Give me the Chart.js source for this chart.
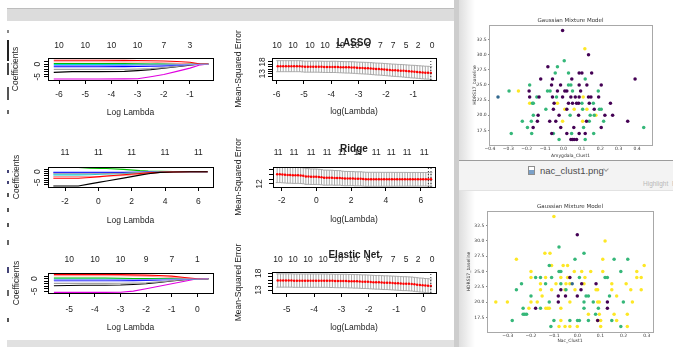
<!DOCTYPE html>
<html>
<head>
<meta charset="utf-8">
<title>glmnet paths and GMM clusters</title>
<script src="https://cdn.jsdelivr.net/npm/chart.js@4.4.1/dist/chart.umd.min.js"></script>
<style>
  html, body { margin: 0; padding: 0; }
  body { width: 673px; height: 347px; position: relative; overflow: hidden; background: #fff; }
  canvas, .ui { position: absolute; }
  #topBand { left: 7px; top: 8px; width: 449px; height: 12px; background: #dcdcdc; border-top: 1px solid #bdbdbd; }
  #bottomBand { left: 7px; top: 340px; width: 449px; height: 7px; background: #e1e1e1; }
  #divider { left: 454px; top: 0; width: 5px; height: 347px; background: #cdcdcd; }
  #shadow { left: 459px; top: 0; width: 16px; height: 347px; background: linear-gradient(to right, rgba(0,0,0,0.13), rgba(0,0,0,0)); }
  #winLine { left: 459px; top: 160px; width: 214px; height: 1px; background: #9c9c9c; }
  #header { left: 459px; top: 161px; width: 214px; height: 29px; background: #f3f3f3; border-bottom: 1px solid #e2e2e2; }
  #fileIcon { left: 528px; top: 166px; width: 5px; height: 7px; border: 1px solid #8d8d8d; background: linear-gradient(#fff 45%, #7aa0c8 45%); }
  #fileName { left: 540px; top: 165px; font: 9.5px 'Liberation Sans', Arial, sans-serif; line-height: 12px; color: #4d4d4d; white-space: nowrap; }
  #chev { left: 604px; top: 167px; width: 3px; height: 3px; border-right: 1px solid #a0a0a0; border-bottom: 1px solid #a0a0a0; transform: rotate(45deg); }
  #highlight { left: 643px; top: 180px; font: 6.5px 'Liberation Sans', Arial, sans-serif; line-height: 8px; color: #b8b8b8; white-space: nowrap; }
</style>
</head>
<body>
<div class="ui" id="topBand"></div>
<div class="ui" id="bottomBand"></div>
<div class="ui" id="divider"></div>
<div class="ui" id="shadow"></div>
<div class="ui" id="winLine"></div>
<div class="ui" id="header"></div>
<div class="ui" id="fileIcon"></div>
<div class="ui" id="fileName">nac_clust1.png</div>
<div class="ui" id="chev"></div>
<div class="ui" id="highlight">Highlight&nbsp;&nbsp;Ro</div>

<canvas id="lassoCoef"></canvas>
<canvas id="lassoCv"></canvas>
<canvas id="ridgeCoef"></canvas>
<canvas id="ridgeCv"></canvas>
<canvas id="enetCoef"></canvas>
<canvas id="enetCv"></canvas>
<canvas id="gmmAmy"></canvas>
<canvas id="gmmNac"></canvas>

<script>
// ---------- coefficient paths (glmnet plot), one row per variable ----------
const lassoPathX = [-6.2, -5.5, -4.5, -3.5, -3.0, -2.5, -2.0, -1.5, -1.0, -0.6, -0.3];
const lassoPathY = [
  [-0.55, -0.55, -0.55, -0.5, -0.45, -0.4, -0.35, -0.3, -0.2, -0.1, -0.05],
  [1.5, 1.5, 1.5, 1.45, 1.4, 1.3, 1.2, 1.0, 0.7, 0, 0],
  [0.9, 0.9, 0.9, 0.85, 0.8, 0.7, 0.5, 0.3, 0, 0, 0],
  [0.25, 0.25, 0.25, 0.2, 0.15, 0.05, 0, 0, 0, 0, 0],
  [-0.15, -0.15, -0.15, -0.15, -0.1, -0.05, 0, 0, 0, 0, 0],
  [-1.05, -1.05, -1.05, -1.0, -0.95, -0.85, -0.7, -0.45, -0.15, 0, 0],
  [-2.1, -2.1, -2.1, -2.1, -2.0, -1.8, -1.4, -0.9, -0.3, 0, 0],
  [-3.3, -3.0, -3.0, -2.9, -2.6, -2.2, -1.6, -1.0, -0.4, 0, 0],
  [-5.9, -5.9, -5.9, -5.85, -5.8, -5.0, -4.1, -2.9, -1.6, -0.3, 0]
];
const lassoTopX = [-6, -5, -4, -3, -2, -1];
const lassoTopNz = ['10', '10', '10', '10', '7', '3'];

const ridgePathX = [-2.7, -1.2, -0.5, 0.1, 0.5, 1.5, 2.5, 3.0, 3.7, 4.5, 5.5, 6.56];
const ridgePathY = [
  [-6.7, -6.7, -5.7, -4.9, -4.4, -3.0, -1.6, -1.0, -0.3, -0.12, -0.04, 0],
  [-3.1, -3.1, -2.7, -2.3, -2.05, -1.45, -0.85, -0.55, -0.3, -0.12, -0.04, 0],
  [-2.3, -2.3, -2.3, -2.3, -2.15, -1.75, -1.3, -1.0, -0.3, -0.1, -0.03, 0],
  [-1.0, -1.0, -1.0, -0.95, -0.9, -0.75, -0.45, -0.3, -0.1, -0.05, 0, 0],
  [-1.5, -1.5, -1.4, -1.2, -1.1, -0.9, -0.5, -0.35, -0.15, -0.05, 0, 0],
  [-0.5, -0.5, -0.5, -0.5, -0.5, -0.45, -0.3, -0.2, -0.1, -0.05, 0, 0],
  [-0.2, -0.2, -0.2, -0.2, -0.2, -0.2, -0.15, -0.1, -0.05, 0, 0, 0],
  [2.0, 2.0, 1.6, 1.55, 1.5, 1.1, 0.5, 0.3, 0.15, 0.05, 0.02, 0]
];
const ridgeTopX = [-2, 0, 2, 4, 6];
const ridgeTopNz = ['11', '11', '11', '11', '11'];

const enetPathX = [-5.6, -4.5, -3.6, -3.0, -2.5, -2.0, -1.5, -1.0, -0.5, 0, 0.43];
const enetPathY = [
  [-0.45, -0.45, -0.45, -0.4, -0.4, -0.35, -0.3, -0.25, -0.2, -0.1, -0.05],
  [1.7, 1.7, 1.7, 1.6, 1.5, 1.4, 1.25, 1.0, 0.5, 0, 0],
  [1.2, 1.2, 1.2, 1.15, 1.1, 0.95, 0.75, 0.45, 0.15, 0, 0],
  [0.25, 0.25, 0.25, 0.2, 0.1, 0.05, 0, 0, 0, 0, 0],
  [-0.1, -0.1, -0.1, -0.1, -0.05, 0, 0, 0, 0, 0, 0],
  [-0.8, -0.8, -0.8, -0.8, -0.75, -0.65, -0.5, -0.3, -0.1, 0, 0],
  [-1.85, -1.85, -1.85, -1.8, -1.75, -1.6, -1.25, -0.8, -0.3, 0, 0],
  [-2.8, -2.6, -2.6, -2.5, -2.3, -2.0, -1.5, -0.9, -0.35, 0, 0],
  [-5.4, -5.4, -5.4, -5.35, -4.9, -4.0, -3.0, -2.0, -1.0, -0.05, 0]
];
const enetTopX = [-5, -4, -3, -2, -1, 0];
const enetTopNz = ['10', '10', '10', '9', '7', '1'];

// ---------- cross-validation curves (cv.glmnet plot) ----------
const lassoCvX = [-5.96,-5.86,-5.76,-5.66,-5.56,-5.46,-5.36,-5.26,-5.16,-5.06,
  -4.96,-4.86,-4.76,-4.66,-4.56,-4.46,-4.36,-4.26,-4.16,-4.06,
  -3.96,-3.86,-3.76,-3.66,-3.56,-3.46,-3.36,-3.26,-3.16,-3.06,
  -2.96,-2.86,-2.76,-2.66,-2.56,-2.46,-2.36,-2.26,-2.16,-2.06,
  -1.96,-1.86,-1.76,-1.66,-1.56,-1.46,-1.36,-1.26,-1.16,-1.06,
  -0.96,-0.86,-0.76,-0.66,-0.56,-0.46,-0.36];
const lassoCvMse = [16.2,16.2,16.2,16.2,16.2,16.2,16.2,16.2,16.2,16.1,
  16.0,16.0,16.0,16.0,16.0,16.0,15.95,
  15.9,15.9,15.9,15.9,15.9,15.85,15.8,
  15.75,15.7,15.7,15.65,15.6,15.5,
  15.45,15.4,15.35,15.3,15.2,15.1,
  15.0,14.95,14.9,14.8,14.7,14.6,
  14.5,14.45,14.35,14.3,14.2,14.1,
  14.0,13.9,13.85,13.75,13.65,13.55,13.45,13.4,13.3];
const lassoCvSe = [2.35,2.35,2.35,2.35,2.35,2.35,2.35,2.35,2.35,2.35,
  2.35,2.35,2.35,2.36,2.36,2.37,2.37,2.38,2.38,2.39,
  2.4,2.4,2.41,2.41,2.42,2.43,2.44,2.45,2.46,2.47,
  2.48,2.49,2.5,2.51,2.52,2.53,2.54,2.55,2.56,2.57,
  2.58,2.59,2.6,2.61,2.62,2.63,2.65,2.67,2.68,2.7,
  2.71,2.72,2.73,2.74,2.75,2.75,2.75];
const lassoCvCut = [-0.36];
const lassoCvTopX = [-5.99, -5.40, -4.78, -4.23, -3.68, -3.13, -2.65, -2.21, -1.74, -1.26, -0.82, -0.31];
const lassoCvTopNz = ['10', '10', '10', '10', '10', '10', '9', '7', '7', '5', '2', '0'];

const ridgeCvX = [-2.26,-2.11,-1.96,-1.81,-1.66,-1.51,-1.36,-1.21,-1.06,-0.91,
  -0.76,-0.61,-0.46,-0.31,-0.16,-0.01,0.14,0.29,0.44,0.59,
  0.74,0.89,1.04,1.19,1.34,1.49,1.64,1.79,1.94,2.09,
  2.24,2.39,2.54,2.69,2.84,2.99,3.14,3.29,3.44,3.59,
  3.74,3.89,4.04,4.19,4.34,4.49,4.64,4.79,4.94,5.09,
  5.24,5.39,5.54,5.69,5.84,5.99,6.14,6.29,6.44,6.59];
const ridgeCvMse = [14.05,14.05,14.0,13.95,
  13.9,13.9,13.85,13.85,13.85,13.8,13.75,
  13.6,13.6,13.55,13.55,13.55,13.5,13.45,
  13.35,13.35,13.35,13.35,13.3,13.3,13.3,13.2,
  13.15,13.15,13.15,13.15,13.1,13.1,13.1,13.05,
  13.0,13.0,13.0,13.0,13.0,13.0,13.0,13.0,13.0,13.0,13.0,13.0,13.0,
  13.0,13.0,13.0,13.0,13.0,13.0,13.0,13.0,13.0,13.0,13.0,13.0,13.0];
const ridgeCvSe = [1.75,1.75,1.74,1.74,1.73,1.73,1.72,1.72,1.71,1.7,
  1.69,1.68,1.67,1.66,1.65,1.64,1.63,1.62,1.61,1.6,
  1.59,1.58,1.57,1.56,1.55,1.54,1.53,1.52,1.51,1.5,
  1.5,1.5,1.5,1.5,1.5,1.49,1.49,1.49,1.49,1.49,
  1.48,1.48,1.48,1.48,1.48,1.47,1.47,1.47,1.47,1.47,
  1.46,1.46,1.46,1.46,1.46,1.45,1.45,1.45,1.45,1.45];
const ridgeCvCut = [6.44, 6.59];
const ridgeCvTopX = [-2.21, -1.29, -0.31, 0.61, 1.48, 2.40, 3.44, 4.30, 5.22, 6.20];
const ridgeCvTopNz = ['11', '11', '11', '11', '11', '11', '11', '11', '11', '11'];

const enetCvX = [-5.33,-5.23,-5.13,-5.03,-4.93,-4.83,-4.73,-4.63,-4.53,-4.43,
  -4.33,-4.23,-4.13,-4.03,-3.93,-3.83,-3.73,-3.63,-3.53,-3.43,
  -3.33,-3.23,-3.13,-3.03,-2.93,-2.83,-2.73,-2.63,-2.53,-2.43,
  -2.33,-2.23,-2.13,-2.03,-1.93,-1.83,-1.73,-1.63,-1.53,-1.43,
  -1.33,-1.23,-1.13,-1.03,-0.93,-0.83,-0.73,-0.63,-0.53,-0.43,
  -0.33,-0.23,-0.13,-0.03,0.07,0.17,0.27];
const enetCvMse = [15.85,15.85,15.85,15.85,15.85,15.85,15.8,15.8,15.8,15.8,
  15.8,15.8,15.8,15.8,15.8,15.8,15.8,15.8,15.8,15.75,
  15.75,15.7,15.7,15.7,15.7,15.7,15.65,15.65,15.6,15.6,
  15.55,15.5,15.5,15.45,15.4,15.35,
  15.3,15.3,15.25,15.2,15.2,15.15,15.1,15.05,
  15.0,14.95,14.9,14.9,14.85,14.8,
  14.7,14.6,14.5,14.45,14.35,14.3,14.2];
const enetCvSe = [2.0,2.0,2.0,2.0,2.0,2.0,2.0,2.0,2.0,2.0,
  2.0,2.0,2.0,2.0,2.0,2.0,2.0,2.0,2.0,2.0,
  2.0,2.0,2.01,2.01,2.01,2.02,2.02,2.02,2.03,2.03,
  2.03,2.04,2.04,2.04,2.05,2.05,2.05,2.06,2.06,2.06,
  2.07,2.07,2.07,2.08,2.08,2.08,2.09,2.09,2.09,2.1,
  2.1,2.1,2.1,2.1,2.1,2.1,2.1];
const enetCvCut = [0.27];
const enetCvTopX = [-5.32, -4.77, -4.22, -3.67, -3.12, -2.57, -2.02, -1.58, -1.11, -0.63, -0.19, 0.32];
const enetCvTopNz = ['10', '10', '10', '10', '10', '10', '9', '7', '7', '5', '2', '0'];

// ---------- Gaussian mixture scatter points [x, HDRS17_baseline] ----------
const amyPurple = [[-0.005,34],[0.136,30],[-0.085,28],[0.085,27],[0.100,27],[0.153,27],[-0.124,26],[-0.060,26],[0.045,26],[0.389,26],
  [-0.065,25],[-0.016,25],[0.085,25],[0.127,25],[0.205,25],[-0.187,24],[-0.033,24],[0.007,24],[0.018,24],[0.093,24],
  [-0.184,23],[-0.133,23],[-0.060,23],[-0.005,23],[0.040,23],[0.064,23],[0.085,23],[0.136,23],[0.149,23],[0.191,23],
  [-0.051,22],[0.027,22],[0.049,22],[0.071,22],[0.082,22],[0.140,22],[0.255,22],[-0.055,21],[0.018,21],[0.167,21],
  [-0.138,20],[-0.024,20],[0.082,20],[0.225,20],[0.267,20],[-0.142,19],[-0.075,19],[-0.042,19],[0.125,19],[0.349,19],
  [-0.165,18],[-0.015,18],[0.056,18],[0.205,18],[-0.064,17],[0.018,17],[0.085,17],[0.118,17],[0.040,16],[0.049,16],[0.058,16],[0.071,16]];
const amyBlue = [[-0.356,23]];
const amyGreen = [[0.004,29],[-0.033,28],[-0.045,27],[0.027,27],[0.118,26],[-0.184,25],[0.027,25],[0.040,25],[-0.296,24],[-0.087,24],
  [-0.073,24],[0.049,24],[0.189,24],[-0.145,23],[-0.038,23],[-0.169,22],[-0.164,22],[0.100,22],[0.162,22],[-0.096,21],
  [0.104,21],[0.195,21],[0.205,21],[-0.164,20],[0.036,20],[0.145,20],[0.167,20],[-0.224,19],[-0.175,19],[0.140,19],
  [0.218,19],[-0.196,18],[0.109,18],[0.436,18],[-0.284,17],[-0.173,17],[-0.055,17],[0.044,17],[0.164,17],[-0.024,16],[0.118,16]];
const amyYellow = [[0.116,31],[-0.245,24],[0.107,23],[-0.184,22],[-0.033,22],[0.007,21],[0.058,21],[0.127,21],[0.176,20],[-0.005,19],[0.104,19]];

const nacPurple = [[0.000,31],[-0.032,24],[0.019,23],[0.081,23],[-0.071,22],[0.016,22],[-0.082,21],[-0.051,21],[0.000,21],[-0.082,20],
  [0.130,20],[-0.180,19],[0.130,19],[0.088,17]];
const nacBlue = [[-0.022,23]];
const nacGreen = [[-0.079,29],[0.029,28],[-0.010,27],[0.159,27],[0.218,27],[-0.121,26],[-0.079,25],[-0.071,25],[0.188,25],[-0.180,24],
  [-0.159,24],[-0.111,24],[0.009,24],[0.120,24],[0.130,24],[-0.241,23],[-0.137,23],[-0.071,23],[-0.263,22],[-0.049,22],
  [-0.200,21],[0.038,21],[0.048,21],[0.139,21],[-0.121,20],[0.029,20],[0.069,20],[0.199,20],[-0.234,19],[-0.159,19],
  [0.029,19],[0.091,19],[-0.234,18],[-0.227,18],[-0.219,18],[0.079,18],[-0.281,17],[-0.101,17],[-0.032,17],[0.001,17],
  [0.009,17],[0.048,17],[0.149,17],[-0.114,16],[0.188,16]];
const nacYellow = [[-0.101,34],[0.120,30],[-0.140,28],[-0.118,28],[-0.263,27],[0.110,27],[-0.111,26],[-0.061,26],[-0.042,26],[0.289,26],
  [-0.200,25],[-0.013,25],[0.019,25],[0.058,25],[0.110,25],[0.257,25],[-0.200,24],[-0.137,24],[-0.071,24],[-0.042,24],
  [0.033,24],[0.257,24],[0.276,24],[-0.159,23],[-0.092,23],[-0.049,23],[-0.032,23],[0.029,23],[0.149,23],[0.211,23],
  [-0.159,22],[-0.111,22],[-0.053,22],[-0.010,22],[0.081,22],[0.088,22],[0.149,22],[0.231,22],[0.276,22],[-0.152,21],
  [0.170,21],[-0.352,20],[-0.302,20],[-0.200,20],[-0.173,20],[-0.032,20],[0.088,20],[0.095,20],[0.238,20],[-0.209,19],
  [-0.136,19],[-0.128,19],[-0.121,19],[-0.071,19],[0.048,18],[0.095,18],[0.159,18],[0.216,18],[-0.071,17],[0.088,17],
  [0.101,17],[0.170,17],[-0.079,16],[-0.053,16],[-0.032,16],[0.000,16],[0.101,16],[0.216,16]];

const gmmAmyXTicks = [-0.4, -0.3, -0.2, -0.1, 0, 0.1, 0.2, 0.3, 0.4];
const gmmNacXTicks = [-0.3, -0.2, -0.1, 0, 0.1, 0.2, 0.3];
const gmmYTicks = [17.5, 20, 22.5, 25, 27.5, 30, 32.5];

// ---------- styles ----------
const R_FAMILY = "'Liberation Sans', Arial, sans-serif";
const MPL_FAMILY = "'DejaVu Sans', sans-serif";
const R_SIZE = 8.5;
const R_TEXT = '#1e1e1e';
const lassoColors = ['#8c8cff', '#ff0000', '#ff9a9a', '#00c000', '#00d8d8', '#0000ff', '#a0a0a0', '#000000', '#e000e0'];
const ridgeColors = ['#000000', '#ff0000', '#ff9a9a', '#a0a0a0', '#00d8d8', '#0000ff', '#8c8cff', '#00c000'];
const viridis = { purple: '#440154', blue: '#31688e', green: '#35b779', yellow: '#fde725' };

Chart.defaults.font.family = R_FAMILY;

// per-canvas decoration (box, rotated R y labels, panel title)
const extras = new Map();
Chart.register({
  id: 'panelDecor',
  afterDatasetsDraw(chart) {
    const e = extras.get(chart.canvas.id);
    if (!e) return;
    const { ctx, chartArea: a } = chart;
    ctx.save();
    ctx.strokeStyle = e.frame;
    ctx.lineWidth = 1;
    ctx.strokeRect(Math.round(a.left) + 0.5, Math.round(a.top) + 0.5,
      Math.round(a.right - a.left), Math.round(a.bottom - a.top));
    ctx.restore();
  },
  afterDraw(chart) {
    const e = extras.get(chart.canvas.id);
    if (!e) return;
    const { ctx, chartArea: a } = chart;
    ctx.save();
    ctx.fillStyle = e.color;
    ctx.textAlign = 'center';
    ctx.textBaseline = 'middle';
    if (e.yLabels) {
      ctx.font = e.yLabelFont;
      const ys = chart.scales.y;
      e.yLabels.forEach(([v, txt]) => {
        ctx.save();
        ctx.translate(a.left - e.yLabelOffset, ys.getPixelForValue(v));
        ctx.rotate(-Math.PI / 2);
        ctx.fillText(txt, 0, 0);
        ctx.restore();
      });
    }
    if (e.title) {
      ctx.font = e.titleFont;
      ctx.fillText(e.title, (a.left + a.right) / 2, e.titleY);
    }
    ctx.restore();
  }
});

function placeCanvas(id, [cx, cy, cw, ch]) {
  const c = document.getElementById(id);
  c.width = cw; c.height = ch;
  c.style.left = cx + 'px'; c.style.top = cy + 'px';
  return c;
}

function pathDatasets(xs, rows, colors) {
  return rows.map((row, i) => ({
    xAxisID: 'x', yAxisID: 'y',
    data: xs.map((x, j) => ({ x, y: row[j] })),
    showLine: true, borderColor: colors[i], borderWidth: 1.1, pointRadius: 0
  }));
}

function cvDatasets(xs, mse, se, cuts, yMin, yMax) {
  const bars = [];
  xs.forEach((x, i) => { bars.push({ x, y: mse[i] - se[i] }, { x, y: mse[i] + se[i] }, { x, y: null }); });
  return [
    ...cuts.map(c => ({
      xAxisID: 'x', yAxisID: 'y', data: [{ x: c, y: yMin }, { x: c, y: yMax }],
      showLine: true, borderColor: '#333', borderWidth: 1, borderDash: [1, 2], pointRadius: 0
    })),
    { xAxisID: 'x', yAxisID: 'y', data: xs.map((x, i) => ({ x, y: mse[i] })),
      pointRadius: 1.25, pointBackgroundColor: '#ff0000', pointBorderWidth: 0 },
    { xAxisID: 'x', yAxisID: 'y', data: bars, showLine: true, spanGaps: false,
      borderColor: '#a9a9a9', borderWidth: 1, pointStyle: 'line', pointRadius: 1.4,
      pointBorderColor: '#a9a9a9', pointBorderWidth: 1 }
  ];
}

// R-style panel: box, ticks below, non-zero counts on top, rotated y labels
function rPanel(id, p) {
  const [cx, cy, cw, ch] = p.canvas;
  const [bl, bt, br, bb] = p.box;
  const lh = R_SIZE * 1.2;
  const font = { family: R_FAMILY, size: R_SIZE };
  const canvas = placeCanvas(id, p.canvas);
  extras.set(id, {
    frame: '#000', color: R_TEXT,
    yLabels: p.yLabels, yLabelOffset: p.yLabelOffset, yLabelFont: `${R_SIZE}px ${R_FAMILY}`,
    title: p.title, titleY: p.titleY - cy, titleFont: `bold 10px ${R_FAMILY}`
  });
  return new Chart(canvas, {
    type: 'scatter',
    data: { datasets: p.datasets },
    options: {
      responsive: false, animation: false, events: [],
      layout: { padding: { left: 0, top: 0, bottom: 0, right: cx + cw - br } },
      plugins: { legend: { display: false }, tooltip: { enabled: false } },
      scales: {
        x: {
          type: 'linear', position: 'bottom', min: p.xMin, max: p.xMax,
          afterBuildTicks: s => { s.ticks = p.xTicks.map(v => ({ value: v })); },
          afterFit: s => { s.height = cy + ch - bb; },
          grid: { drawOnChartArea: false, drawTicks: true, tickLength: 4, color: '#000' },
          border: { display: false },
          ticks: { autoSkip: false, maxRotation: 0, minRotation: 0, font, color: R_TEXT,
            padding: Math.max(0, p.xLabelY - bb - 4 - lh / 2), callback: v => String(v) },
          title: { display: true, text: p.xTitle, font, color: R_TEXT,
            padding: { top: 0, bottom: cy + ch - p.xTitleY - lh / 2 } }
        },
        x2: {
          type: 'linear', position: 'top', min: p.xMin, max: p.xMax,
          afterBuildTicks: s => { s.ticks = p.topX.map(v => ({ value: v })); },
          afterFit: s => { s.height = bt - cy; },
          grid: { display: false, drawTicks: false },
          border: { display: false },
          ticks: { autoSkip: false, maxRotation: 0, minRotation: 0, font, color: R_TEXT,
            padding: Math.max(0, bt - p.topY - lh / 2), callback: (v, i) => p.topLabels[i] }
        },
        y: {
          type: 'linear', min: p.yMin, max: p.yMax,
          afterBuildTicks: s => { s.ticks = p.yTicks.map(v => ({ value: v })); },
          afterFit: s => { s.width = bl - cx; },
          grid: { drawOnChartArea: false, drawTicks: true, tickLength: 4, color: '#000' },
          border: { display: false },
          ticks: { display: false },
          title: { display: true, text: p.yTitle, font, color: R_TEXT,
            padding: { top: p.yTitleX - cx - lh / 2, bottom: 0 } }
        }
      }
    }
  });
}

// matplotlib-style scatter panel
function gmmPanel(id, p) {
  const [cx, cy, cw, ch] = p.canvas;
  const [bl, bt, br, bb] = p.box;
  const fs = 4.5, lh = fs * 1.2;
  const font = { family: MPL_FAMILY, size: fs };
  const canvas = placeCanvas(id, p.canvas);
  extras.set(id, {
    frame: '#a8a8a8', color: '#333',
    title: 'Gaussian Mixture Model', titleY: p.titleY - cy, titleFont: `5.5px ${MPL_FAMILY}`
  });
  const set = (pts, col) => ({ data: pts.map(([x, y]) => ({ x, y })), pointRadius: 1.75,
    pointBackgroundColor: col, pointBorderWidth: 0 });
  return new Chart(canvas, {
    type: 'scatter',
    data: { datasets: [set(p.purple, viridis.purple), set(p.blue, viridis.blue), set(p.green, viridis.green), set(p.yellow, viridis.yellow)] },
    options: {
      responsive: false, animation: false, events: [],
      layout: { padding: { left: 0, top: bt - cy, bottom: 0, right: cx + cw - br } },
      plugins: { legend: { display: false }, tooltip: { enabled: false } },
      scales: {
        x: {
          type: 'linear', min: p.xMin, max: p.xMax,
          afterBuildTicks: s => { s.ticks = p.xTicks.map(v => ({ value: v })); },
          afterFit: s => { s.height = cy + ch - bb; },
          grid: { drawOnChartArea: false, tickLength: 1, color: '#888' },
          border: { display: false },
          ticks: { autoSkip: false, maxRotation: 0, font, color: '#333',
            padding: Math.max(0, p.xLabelY - bb - 1 - lh / 2),
            callback: v => (v < 0 ? '\u2212' : '') + Math.abs(v).toFixed(1) },
          title: { display: true, text: p.xTitle, font, color: '#333',
            padding: { top: 0, bottom: cy + ch - p.xTitleY - lh / 2 } }
        },
        y: {
          type: 'linear', min: 15.1, max: 34.9,
          afterBuildTicks: s => { s.ticks = gmmYTicks.map(v => ({ value: v })); },
          afterFit: s => { s.width = bl - cx; },
          grid: { drawOnChartArea: false, tickLength: 1, color: '#888' },
          border: { display: false },
          ticks: { font, color: '#333', padding: p.yLabelPad, callback: v => v.toFixed(1) },
          title: { display: true, text: 'HDRS17_baseline', font, color: '#333',
            padding: { top: p.yTitleX - cx - lh / 2, bottom: 0 } }
        }
      }
    }
  });
}

// ---------- build ----------
rPanel('lassoCoef', {
  canvas: [8, 28, 222, 100], box: [48, 58, 213, 80],
  xMin: -6.42, xMax: -0.12, xTicks: [-6, -5, -4, -3, -2, -1],
  yMin: -6.3, yMax: 2.4, yTicks: [-5, -4, -3, -2, -1, 0, 1], yLabels: [[0, '0'], [-5, '-5']], yLabelOffset: 10,
  topX: lassoTopX, topLabels: lassoTopNz, topY: 46,
  xLabelY: 95, xTitle: 'Log Lambda', xTitleY: 112.7, yTitle: 'Coefficients', yTitleX: 15.5,
  datasets: pathDatasets(lassoPathX, lassoPathY, lassoColors)
});
rPanel('lassoCv', {
  canvas: [230, 28, 225, 100], box: [272, 58, 436, 80],
  xMin: -6.17, xMax: -0.17, xTicks: [-6, -5, -4, -3, -2, -1],
  yMin: 10.3, yMax: 19.7, yTicks: [12, 13, 14, 15, 16, 17, 18], yLabels: [[18, '18'], [13, '13']], yLabelOffset: 9.5,
  topX: lassoCvTopX, topLabels: lassoCvTopNz, topY: 46, title: 'LASSO', titleY: 43,
  xLabelY: 95, xTitle: 'log(Lambda)', xTitleY: 111.7, yTitle: 'Mean-Squared Error', yTitleX: 239,
  datasets: cvDatasets(lassoCvX, lassoCvMse, lassoCvSe, lassoCvCut, 10.3, 19.7)
});
rPanel('ridgeCoef', {
  canvas: [8, 133, 222, 100], box: [48, 167, 213, 187],
  xMin: -3.02, xMax: 6.88, xTicks: [-2, 0, 2, 4, 6],
  yMin: -7.18, yMax: 2.2, yTicks: [-6, -5, -4, -3, -2, -1, 0, 1], yLabels: [[0, '0'], [-5, '-5']], yLabelOffset: 10,
  topX: ridgeTopX, topLabels: ridgeTopNz, topY: 152.3,
  xLabelY: 201.7, xTitle: 'Log Lambda', xTitleY: 221, yTitle: 'Coefficients', yTitleX: 16.3,
  datasets: pathDatasets(ridgePathX, ridgePathY, ridgeColors)
});
rPanel('ridgeCv', {
  canvas: [230, 133, 225, 100], box: [273, 167, 435, 187],
  xMin: -2.5, xMax: 6.82, xTicks: [-2, 0, 2, 4, 6],
  yMin: 11.36, yMax: 15.62, yTicks: [12, 13, 14, 15], yLabels: [[12, '12']], yLabelOffset: 13,
  topX: ridgeCvTopX, topLabels: ridgeCvTopNz, topY: 152.3, title: 'Ridge', titleY: 149,
  xLabelY: 201, xTitle: 'log(Lambda)', xTitleY: 220, yTitle: 'Mean-Squared Error', yTitleX: 239,
  datasets: cvDatasets(ridgeCvX, ridgeCvMse, ridgeCvSe, ridgeCvCut, 11.36, 15.62)
});
rPanel('enetCoef', {
  canvas: [8, 240, 222, 100], box: [48, 273, 213, 293],
  xMin: -5.83, xMax: 0.61, xTicks: [-5, -4, -3, -2, -1, 0],
  yMin: -5.65, yMax: 2.25, yTicks: [-5, -4, -3, -2, -1, 0, 1], yLabels: [[0, '0'], [-5, '-5']], yLabelOffset: 13,
  topX: enetTopX, topLabels: enetTopNz, topY: 260,
  xLabelY: 310, xTitle: 'Log Lambda', xTitleY: 327.7, yTitle: 'Coefficients', yTitleX: 16.3,
  datasets: pathDatasets(enetPathX, enetPathY, lassoColors)
});
rPanel('enetCv', {
  canvas: [230, 240, 225, 100], box: [272, 272, 436, 293],
  xMin: -5.54, xMax: 0.46, xTicks: [-5, -4, -3, -2, -1, 0],
  yMin: 12.1, yMax: 18.4, yTicks: [13, 14, 15, 16, 17, 18], yLabels: [[18, '18'], [13, '13']], yLabelOffset: 13.5,
  topX: enetCvTopX, topLabels: enetCvTopNz, topY: 260, title: 'Elastic Net', titleY: 255,
  xLabelY: 309.3, xTitle: 'log(Lambda)', xTitleY: 327.3, yTitle: 'Mean-Squared Error', yTitleX: 239,
  datasets: cvDatasets(enetCvX, enetCvMse, enetCvSe, enetCvCut, 12.1, 18.4)
});

gmmPanel('gmmAmy', {
  canvas: [462, 10, 208, 150], box: [489, 25, 652, 145],
  xMin: -0.405, xMax: 0.481, xTicks: gmmAmyXTicks,
  xLabelY: 148.3, xTitle: 'Amygdala_Clust1', xTitleY: 155.7, yTitleX: 475, yLabelPad: 1.3, titleY: 21,
  purple: amyPurple, blue: amyBlue, green: amyGreen, yellow: amyYellow
});
gmmPanel('gmmNac', {
  canvas: [462, 196, 208, 151], box: [487, 211, 653, 332],
  xMin: -0.39, xMax: 0.327, xTicks: gmmNacXTicks,
  xLabelY: 336.3, xTitle: 'Nac_Clust1', xTitleY: 341, yTitleX: 469, yLabelPad: 1.7, titleY: 206.7,
  purple: nacPurple, blue: nacBlue, green: nacGreen, yellow: nacYellow
});

// dark window edge on the far left
[[30, 3, '#888'], [40, 21, '#222'], [63, 12, '#444'], [87, 13, '#555'], [110, 4, '#666'],
 [170, 3, '#447'], [181, 3, '#447'], [193, 4, '#555'], [208, 4, '#555'], [223, 4, '#555'],
 [240, 5, '#666'], [267, 6, '#447'], [290, 6, '#666'], [318, 4, '#555']].forEach(([t, h, c]) => {
  const d = document.createElement('div');
  d.className = 'ui';
  d.style.cssText = `left:7px;top:${t}px;width:2px;height:${h}px;background:${c}`;
  document.body.appendChild(d);
});
</script>
</body>
</html>
